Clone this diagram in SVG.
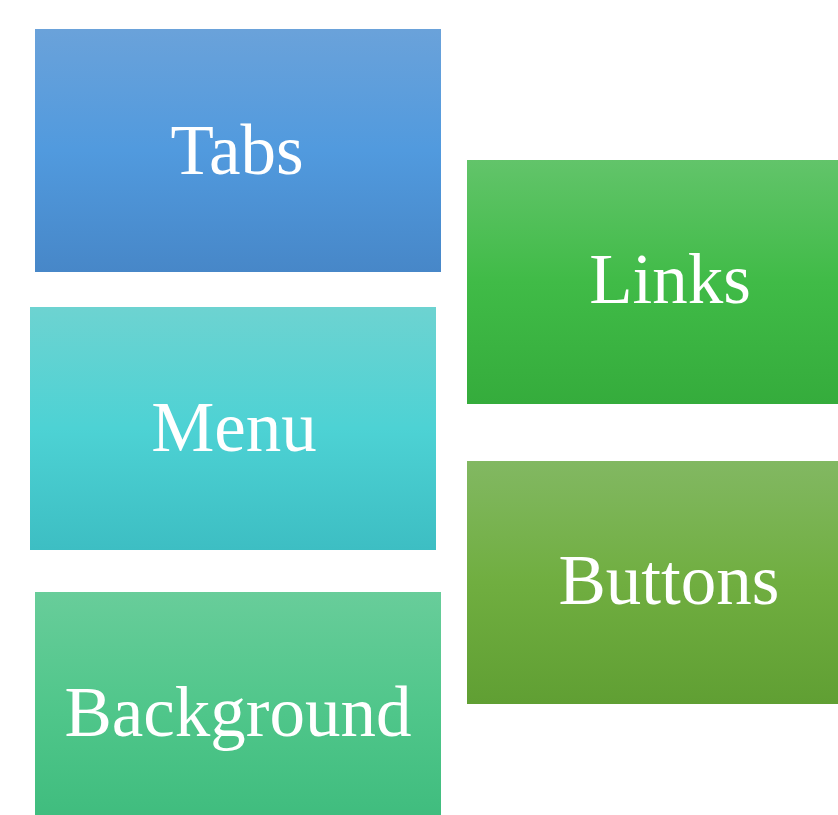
<svg xmlns="http://www.w3.org/2000/svg" width="838" height="815" viewBox="0 0 838 815">
<defs>
<linearGradient id="gBlue" x1="0" y1="0" x2="0" y2="1"><stop offset="0" stop-color="#6aa2da"/><stop offset="0.5" stop-color="#519ade"/><stop offset="1" stop-color="#4787c8"/></linearGradient>
<linearGradient id="gGreen" x1="0" y1="0" x2="0" y2="1"><stop offset="0" stop-color="#62c46a"/><stop offset="0.5" stop-color="#40bb47"/><stop offset="1" stop-color="#35ac3c"/></linearGradient>
<linearGradient id="gCyan" x1="0" y1="0" x2="0" y2="1"><stop offset="0" stop-color="#6dd3d1"/><stop offset="0.5" stop-color="#4dd2d4"/><stop offset="1" stop-color="#3dbec3"/></linearGradient>
<linearGradient id="gOlive" x1="0" y1="0" x2="0" y2="1"><stop offset="0" stop-color="#82b862"/><stop offset="0.5" stop-color="#70ae40"/><stop offset="1" stop-color="#609f33"/></linearGradient>
<linearGradient id="gMint" x1="0" y1="0" x2="0" y2="1"><stop offset="0" stop-color="#68cd9a"/><stop offset="0.5" stop-color="#4fc68a"/><stop offset="1" stop-color="#3dbb7c"/></linearGradient>
</defs>
<style>
text{font-family:"Liberation Serif","Times New Roman",serif;font-size:71px;fill:#ffffff;text-anchor:middle}
</style>
<rect width="838" height="815" fill="#ffffff"/>
<g id="tabs"><rect x="35" y="29" width="406" height="243" fill="url(#gBlue)"/><text x="237" y="174">Tabs</text></g>
<g id="links"><rect x="467" y="160" width="406" height="244" fill="url(#gGreen)"/><text x="670" y="303">Links</text></g>
<g id="menu"><rect x="30" y="307" width="406" height="243" fill="url(#gCyan)"/><text x="234" y="451">Menu</text></g>
<g id="buttons"><rect x="467" y="461" width="406" height="243" fill="url(#gOlive)"/><text x="669" y="604">Buttons</text></g>
<g id="background"><rect x="35" y="592" width="406" height="243" fill="url(#gMint)"/><text x="238" y="736">Background</text></g>
<g id="connectors"/>
</svg>
